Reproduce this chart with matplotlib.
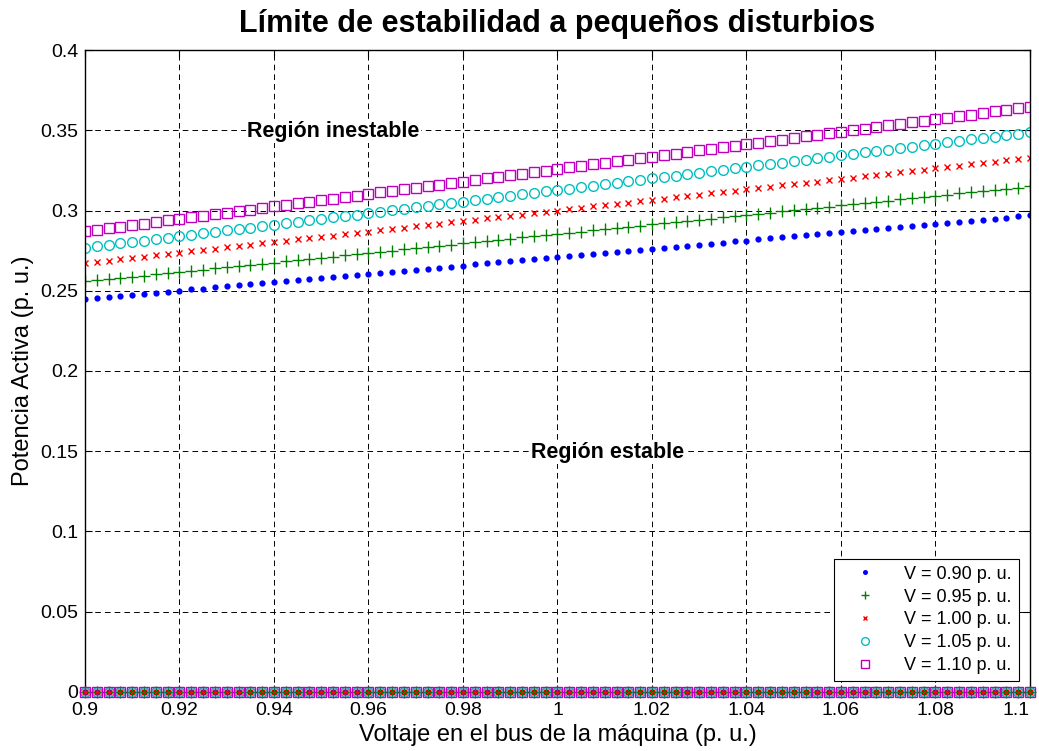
import numpy as np
import matplotlib.pyplot as plt

plt.rcParams['font.family'] = ['Liberation Sans', 'DejaVu Sans']

# voltaje en el bus de la maquina, paso de 0.0025 p.u.
v_bus = np.linspace(0.9, 1.1, 81)

p_090 = [0.2449, 0.2456, 0.2462, 0.2469, 0.2475, 0.2482, 0.2488, 0.2495, 0.2501, 0.2508,
         0.2514, 0.2521, 0.2527, 0.2534, 0.2540, 0.2547, 0.2553, 0.2560, 0.2566, 0.2573,
         0.2579, 0.2586, 0.2592, 0.2599, 0.2605, 0.2612, 0.2618, 0.2625, 0.2631, 0.2638,
         0.2644, 0.2651, 0.2657, 0.2664, 0.2670, 0.2677, 0.2683, 0.2690, 0.2696, 0.2703,
         0.2709, 0.2716, 0.2722, 0.2729, 0.2735, 0.2742, 0.2748, 0.2755, 0.2761, 0.2768,
         0.2774, 0.2781, 0.2787, 0.2794, 0.2800, 0.2807, 0.2813, 0.2820, 0.2826, 0.2833,
         0.2839, 0.2846, 0.2852, 0.2859, 0.2865, 0.2872, 0.2878, 0.2885, 0.2891, 0.2898,
         0.2904, 0.2911, 0.2917, 0.2924, 0.2930, 0.2937, 0.2943, 0.2950, 0.2956, 0.2963,
         0.2969]
p_095 = [0.2558, 0.2565, 0.2573, 0.2580, 0.2588, 0.2595, 0.2602, 0.2610, 0.2617, 0.2625,
         0.2632, 0.2639, 0.2647, 0.2654, 0.2662, 0.2669, 0.2676, 0.2684, 0.2691, 0.2699,
         0.2706, 0.2713, 0.2721, 0.2728, 0.2736, 0.2743, 0.2750, 0.2758, 0.2765, 0.2773,
         0.2780, 0.2787, 0.2795, 0.2802, 0.2810, 0.2817, 0.2824, 0.2832, 0.2839, 0.2847,
         0.2854, 0.2861, 0.2869, 0.2876, 0.2884, 0.2891, 0.2898, 0.2906, 0.2913, 0.2921,
         0.2928, 0.2935, 0.2943, 0.2950, 0.2958, 0.2965, 0.2972, 0.2980, 0.2987, 0.2995,
         0.3002, 0.3009, 0.3017, 0.3024, 0.3032, 0.3039, 0.3046, 0.3054, 0.3061, 0.3069,
         0.3076, 0.3083, 0.3091, 0.3098, 0.3106, 0.3113, 0.3120, 0.3128, 0.3135, 0.3143,
         0.3150]
p_100 = [0.2672, 0.2680, 0.2688, 0.2697, 0.2705, 0.2713, 0.2721, 0.2729, 0.2738, 0.2746,
         0.2754, 0.2762, 0.2770, 0.2779, 0.2787, 0.2795, 0.2803, 0.2811, 0.2820, 0.2828,
         0.2836, 0.2844, 0.2852, 0.2861, 0.2869, 0.2877, 0.2885, 0.2893, 0.2902, 0.2910,
         0.2918, 0.2926, 0.2934, 0.2943, 0.2951, 0.2959, 0.2967, 0.2975, 0.2984, 0.2992,
         0.3000, 0.3008, 0.3016, 0.3025, 0.3033, 0.3041, 0.3049, 0.3057, 0.3066, 0.3074,
         0.3082, 0.3090, 0.3098, 0.3107, 0.3115, 0.3123, 0.3131, 0.3139, 0.3148, 0.3156,
         0.3164, 0.3172, 0.3180, 0.3189, 0.3197, 0.3205, 0.3213, 0.3221, 0.3230, 0.3238,
         0.3246, 0.3254, 0.3262, 0.3271, 0.3279, 0.3287, 0.3295, 0.3303, 0.3312, 0.3320,
         0.3328]
p_105 = [0.2768, 0.2777, 0.2786, 0.2795, 0.2804, 0.2813, 0.2822, 0.2831, 0.2840, 0.2849,
         0.2858, 0.2867, 0.2876, 0.2885, 0.2894, 0.2903, 0.2912, 0.2921, 0.2930, 0.2939,
         0.2948, 0.2957, 0.2966, 0.2975, 0.2984, 0.2993, 0.3002, 0.3011, 0.3020, 0.3029,
         0.3038, 0.3047, 0.3056, 0.3065, 0.3074, 0.3083, 0.3092, 0.3101, 0.3110, 0.3119,
         0.3128, 0.3137, 0.3146, 0.3155, 0.3164, 0.3173, 0.3182, 0.3191, 0.3200, 0.3209,
         0.3218, 0.3227, 0.3236, 0.3245, 0.3254, 0.3263, 0.3272, 0.3281, 0.3290, 0.3299,
         0.3308, 0.3317, 0.3326, 0.3335, 0.3344, 0.3353, 0.3362, 0.3371, 0.3380, 0.3389,
         0.3398, 0.3407, 0.3416, 0.3425, 0.3434, 0.3443, 0.3452, 0.3461, 0.3470, 0.3479,
         0.3488]
p_110 = [0.2870, 0.2880, 0.2889, 0.2899, 0.2909, 0.2919, 0.2928, 0.2938, 0.2948, 0.2957,
         0.2967, 0.2977, 0.2986, 0.2996, 0.3006, 0.3016, 0.3025, 0.3035, 0.3045, 0.3054,
         0.3064, 0.3074, 0.3083, 0.3093, 0.3103, 0.3113, 0.3122, 0.3132, 0.3142, 0.3151,
         0.3161, 0.3171, 0.3180, 0.3190, 0.3200, 0.3210, 0.3219, 0.3229, 0.3239, 0.3248,
         0.3258, 0.3268, 0.3277, 0.3287, 0.3297, 0.3307, 0.3316, 0.3326, 0.3336, 0.3345,
         0.3355, 0.3365, 0.3374, 0.3384, 0.3394, 0.3404, 0.3413, 0.3423, 0.3433, 0.3442,
         0.3452, 0.3462, 0.3471, 0.3481, 0.3491, 0.3501, 0.3510, 0.3520, 0.3530, 0.3539,
         0.3549, 0.3559, 0.3568, 0.3578, 0.3588, 0.3598, 0.3607, 0.3617, 0.3627, 0.3636,
         0.3646]
# segunda solucion (trivial) de cada caso
p_cero = [0.0] * 81

etiquetas = ['V = 0.90 p. u.', 'V = 0.95 p. u.', 'V = 1.00 p. u.',
             'V = 1.05 p. u.', 'V = 1.10 p. u.']
series = [p_090, p_095, p_100, p_105, p_110]
estilos = [
    dict(marker='.', color='#0000ff', ms=9, mew=0),
    dict(marker='+', color='#008000', ms=8, mew=1.0),
    dict(marker='x', color='#ff0000', ms=4, mew=1.0),
    dict(marker='o', color='#00bfbf', ms=7, mew=1.0, mfc='none'),
    dict(marker='s', color='#bf00bf', ms=7.5, mew=1.0, mfc='none'),
]

fig = plt.figure(figsize=(10.39, 7.51), dpi=100)
ax = fig.add_axes([0.0818, 0.0786, 0.9095, 0.8548])

for p, lab, st in zip(series, etiquetas, estilos):
    ax.plot(v_bus, p, ls='none', label=lab, **st)
for st in estilos:
    ax.plot(v_bus, p_cero, ls='none', clip_on=False, zorder=3, **st)

ax.set_xlim(0.9, 1.1)
ax.set_ylim(0, 0.4)
ax.set_xticks(np.arange(0.9, 1.1001, 0.02))
ax.set_yticks(np.arange(0, 0.4001, 0.05))
ax.xaxis.set_major_formatter(plt.FuncFormatter(lambda v, _: '%g' % round(v, 4)))
ax.yaxis.set_major_formatter(plt.FuncFormatter(lambda v, _: '%g' % round(v, 4)))
ax.tick_params(direction='in', length=5, width=0.8, labelsize=14,
               top=True, right=True)
ax.tick_params(axis='x', pad=7)
ax.tick_params(axis='y', pad=5)
ax.grid(True, color='k', linestyle=(0, (5.8, 4.2)), linewidth=0.7)
for s in ax.spines.values():
    s.set_linewidth(1.0)
# ultima etiqueta del eje x pegada al borde
ax.get_xticklabels()[-1].set_horizontalalignment('right')
ax.get_xticklabels()[-1].set_x(1.1)

ax.set_title('Límite de estabilidad a pequeños disturbios', fontsize=22,
             fontweight='bold', pad=13)
ax.set_xlabel('Voltaje en el bus de la máquina (p. u.)', fontsize=17, labelpad=4)
ax.set_ylabel('Potencia Activa (p. u.)', fontsize=17, labelpad=4)

ax.text(0.9525, 0.3495, 'Región inestable', fontsize=15.5, fontweight='bold',
        ha='center', va='center',
        bbox=dict(facecolor='white', edgecolor='none', pad=1))
ax.text(1.0105, 0.1495, 'Región estable', fontsize=15.5, fontweight='bold',
        ha='center', va='center',
        bbox=dict(facecolor='white', edgecolor='none', pad=1))

leg = ax.legend(loc='lower right', fontsize=13, fancybox=False, framealpha=1,
                edgecolor='k', borderaxespad=0.6, handletextpad=0.9,
                handlelength=2.6, labelspacing=0.32, markerscale=0.8,
                borderpad=0.4)
leg.get_frame().set_linewidth(0.8)

fig.savefig('out.png', dpi=100)
